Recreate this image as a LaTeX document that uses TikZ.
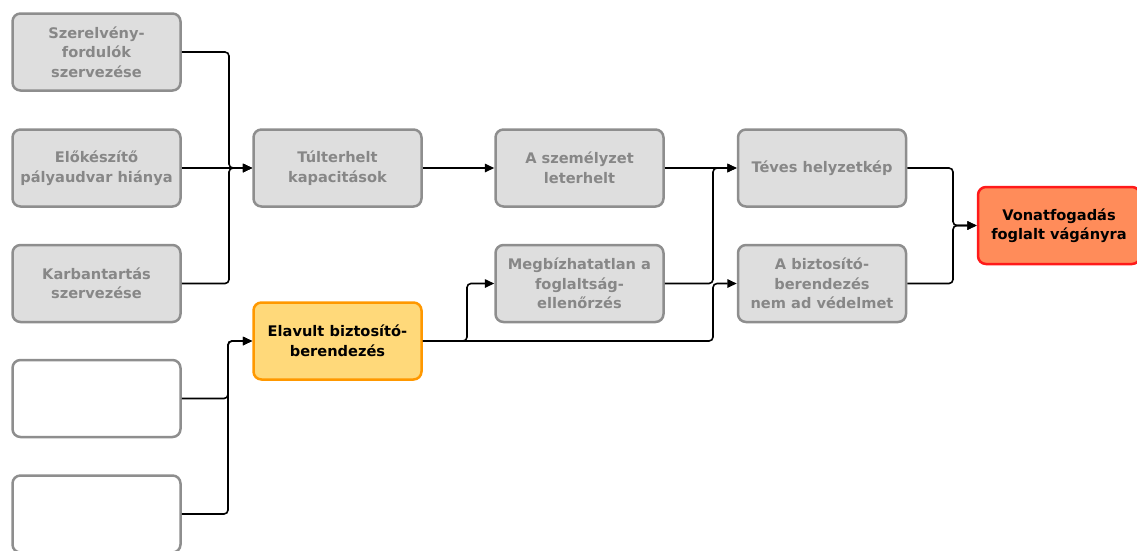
\documentclass[tikz,border=0pt]{standalone}
\usepackage{fontspec}
\setmainfont{DejaVu Sans}
\usetikzlibrary{arrows.meta}

\definecolor{boxfill}{HTML}{DEDEDE}
\definecolor{boxline}{HTML}{8E8E8E}
\definecolor{boxtext}{HTML}{878787}
\definecolor{warnfill}{HTML}{FFD97A}
\definecolor{warnline}{HTML}{FF9800}
\definecolor{endfill}{HTML}{FF8C5A}
\definecolor{endline}{HTML}{FF1A1A}

\tikzset{
  cause/.style={draw=boxline, fill=boxfill, text=boxtext, line width=2.5pt,
    rounded corners=8pt, minimum width=168pt, minimum height=77pt,
    align=center, font=\bfseries\fontsize{14.6}{19.5}\selectfont, inner sep=2pt},
  blank/.style={cause, fill=white, text=white},
  weak/.style={cause, draw=warnline, fill=warnfill, text=black},
  outcome/.style={cause, draw=endline, fill=endfill, text=black, minimum width=162pt},
  conn/.style={draw=black, line width=1.6pt, rounded corners=4pt,
    -{Triangle[length=9.5pt,width=8.5pt]}},
}

\begin{document}
\begin{tikzpicture}[x=1pt, y=-1pt]
  \useasboundingbox (0,0) rectangle (1137,550);

  % left column: root causes
  \node[cause] (b1) at (96.5,52)    {Szerelvény-\\fordulók\\szervezése};
  \node[cause] (b2) at (96.5,168)   {Előkészítő\\pályaudvar hiánya};
  \node[cause] (b3) at (96.5,283.5) {Karbantartás\\szervezése};
  \node[blank] (b4) at (96.5,398.5) {};
  \node[blank] (b5) at (96.5,514)   {};

  % second column
  \node[cause] (tul) at (337.5,168) {Túlterhelt\\kapacitások};
  \node[weak]  (el)  at (337.5,341) {Elavult biztosító-\\berendezés};

  % third column
  \node[cause] (sz) at (579.5,168)   {A személyzet\\leterhelt};
  \node[cause] (mb) at (579.5,283.5) {Megbízhatatlan a\\foglaltság-\\ellenőrzés};

  % fourth column
  \node[cause] (tv) at (822,168)   {Téves helyzetkép};
  \node[cause] (bz) at (822,283.5) {A biztosító-\\berendezés\\nem ad védelmet};

  % final event
  \node[outcome] (vf) at (1059,225.5) {Vonatfogadás\\foglalt vágányra};

  % vertical merge lines
  \coordinate (ja) at (229,0);
  \coordinate (jb) at (228,0);
  \coordinate (jc) at (467,0);
  \coordinate (jd) at (713,0);
  \coordinate (je) at (953,0);

  % connectors
  \draw[conn] (b1.east) -- (b1 -| ja) -- (tul -| ja) -- (tul.west);
  \draw[conn] (b2.east) -- (tul.west);
  \draw[conn] (b3.east) -- (b3 -| ja) -- (tul -| ja) -- (tul.west);

  \draw[conn] (b4.east) -- (b4 -| jb) -- (el -| jb) -- (el.west);
  \draw[conn] (b5.east) -- (b5 -| jb) -- (el -| jb) -- (el.west);

  \draw[conn] (tul.east) -- (sz.west);
  \draw[conn] (el.east) -- (el -| jc) -- (mb -| jc) -- (mb.west);
  \draw[conn] (el.east) -- (el -| jd) -- (bz -| jd) -- (bz.west);

  \draw[conn] (sz.east) -- (tv.west);
  \draw[conn] (mb.east) -- (mb -| jd) -- (tv -| jd) -- (tv.west);

  \draw[conn] (tv.east) -- (tv -| je) -- (vf -| je) -- (vf.west);
  \draw[conn] (bz.east) -- (bz -| je) -- (vf -| je) -- (vf.west);
\end{tikzpicture}
\end{document}
